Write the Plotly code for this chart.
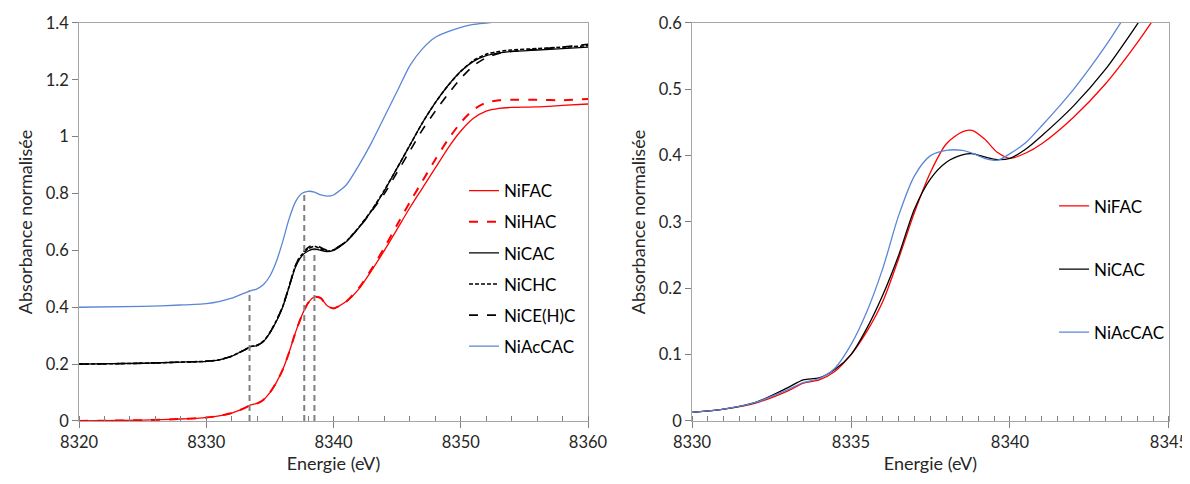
import plotly.graph_objects as go

# ---------------- data: left panel (offset spectra) ----------------
E_left = [8320, 8325, 8328, 8330, 8331, 8332, 8333, 8333.5, 8334, 8334.5, 8335, 8335.5,
          8336, 8336.5, 8337, 8337.5, 8338, 8338.5, 8339, 8339.5, 8340, 8341, 8342, 8343,
          8344, 8345, 8346, 8347, 8348, 8349, 8350, 8351, 8352, 8353, 8354, 8356, 8358, 8360]

NiFAC_L = [0.0, 0.003, 0.007, 0.012, 0.018, 0.028, 0.045, 0.057, 0.062, 0.075, 0.10, 0.135,
           0.18, 0.24, 0.31, 0.37, 0.415, 0.437, 0.432, 0.405, 0.396, 0.42, 0.465, 0.53,
           0.60, 0.675, 0.75, 0.82, 0.89, 0.96, 1.02, 1.065, 1.09, 1.10, 1.103, 1.105, 1.11, 1.115]
NiHAC_L = [0.0, 0.003, 0.007, 0.012, 0.018, 0.028, 0.045, 0.057, 0.062, 0.075, 0.10, 0.135,
           0.18, 0.24, 0.31, 0.37, 0.415, 0.437, 0.432, 0.405, 0.396, 0.42, 0.468, 0.535,
           0.61, 0.69, 0.77, 0.845, 0.92, 0.99, 1.05, 1.095, 1.12, 1.128, 1.13, 1.13, 1.128, 1.133]
NiCAC_L = [0.2, 0.203, 0.207, 0.21, 0.215, 0.228, 0.25, 0.262, 0.265, 0.28, 0.31, 0.35,
           0.40, 0.47, 0.54, 0.58, 0.598, 0.605, 0.60, 0.596, 0.60, 0.63, 0.68, 0.74,
           0.81, 0.89, 0.97, 1.05, 1.12, 1.18, 1.23, 1.265, 1.285, 1.295, 1.30, 1.305, 1.31, 1.315]
NiCHC_L = [0.2, 0.203, 0.207, 0.21, 0.215, 0.228, 0.25, 0.262, 0.266, 0.281, 0.311, 0.352,
           0.402, 0.472, 0.545, 0.585, 0.605, 0.615, 0.605, 0.598, 0.602, 0.632, 0.682, 0.742,
           0.812, 0.89, 0.97, 1.05, 1.12, 1.18, 1.23, 1.268, 1.29, 1.30, 1.305, 1.31, 1.315, 1.32]
NiCEHC_L = [0.2, 0.203, 0.207, 0.21, 0.215, 0.228, 0.25, 0.262, 0.266, 0.281, 0.311, 0.352,
            0.402, 0.472, 0.545, 0.59, 0.61, 0.622, 0.61, 0.60, 0.603, 0.632, 0.68, 0.738,
            0.80, 0.875, 0.95, 1.025, 1.09, 1.15, 1.205, 1.25, 1.278, 1.293, 1.30, 1.308, 1.315, 1.325]
NiAcCAC_L = [0.4, 0.403, 0.408, 0.413, 0.42, 0.432, 0.45, 0.458, 0.465, 0.48, 0.51, 0.56,
             0.63, 0.71, 0.77, 0.80, 0.808, 0.805, 0.795, 0.791, 0.795, 0.83, 0.90, 0.98,
             1.07, 1.16, 1.25, 1.31, 1.35, 1.37, 1.385, 1.395, 1.40, 1.405, 1.41, 1.415, 1.42, 1.425]

# edge feature markers (vertical dashed lines): energy, top value
mark_E = [8333.4, 8337.7, 8338.5]
mark_top = [0.46, 0.80, 0.60]

# ---------------- data: right panel (zoom, no offset) ----------------
E_right = [8330, 8331, 8332, 8333, 8333.5, 8334, 8334.5, 8335, 8335.5, 8336, 8336.5,
           8337, 8337.5, 8338, 8338.5, 8338.8, 8339.2, 8339.6, 8340, 8340.5, 8341,
           8342, 8343, 8344, 8345]
NiFAC_R = [0.013, 0.018, 0.027, 0.045, 0.057, 0.062, 0.075, 0.10, 0.135, 0.18, 0.245,
           0.315, 0.375, 0.418, 0.436, 0.438, 0.425, 0.405, 0.396, 0.404, 0.418,
           0.458, 0.508, 0.57, 0.64]
NiCAC_R = [0.013, 0.018, 0.028, 0.05, 0.062, 0.065, 0.078, 0.10, 0.14, 0.19, 0.25,
           0.32, 0.365, 0.39, 0.401, 0.403, 0.398, 0.394, 0.396, 0.41, 0.43,
           0.475, 0.53, 0.598, 0.67]
NiAcCAC_R = [0.013, 0.018, 0.028, 0.047, 0.058, 0.064, 0.08, 0.115, 0.165, 0.23, 0.31,
             0.37, 0.40, 0.408, 0.408, 0.404, 0.396, 0.393, 0.403, 0.42, 0.445,
             0.50, 0.565, 0.64, 0.72]

RED = "#FF0000"
BLACK = "#000000"
BLUE = "#5B86D6"
FONT = "Lato"
TXT = "#262626"

fig = go.Figure()

left_series = [
    ("NiFAC", NiFAC_L, RED, "solid", 1.3),
    ("NiHAC", NiHAC_L, RED, "dash", 2.0),
    ("NiCAC", NiCAC_L, BLACK, "solid", 1.3),
    ("NiCHC", NiCHC_L, BLACK, "4px,2px", 1.6),
    ("NiCE(H)C", NiCEHC_L, BLACK, "dash", 1.6),
    ("NiAcCAC", NiAcCAC_L, BLUE, "solid", 1.3),
]
for i, (name, ys, col, dash, w) in enumerate(left_series):
    fig.add_trace(go.Scatter(x=E_left, y=ys, name=name, mode="lines",
                             line=dict(color=col, dash=dash, width=w, shape="spline", smoothing=0.6),
                             xaxis="x", yaxis="y", legend="legend", legendgroup=f"L{i}"))

right_series = [
    ("NiFAC", NiFAC_R, RED),
    ("NiCAC", NiCAC_R, BLACK),
    ("NiAcCAC", NiAcCAC_R, BLUE),
]
for i, (name, ys, col) in enumerate(right_series):
    fig.add_trace(go.Scatter(x=E_right, y=ys, name=name, mode="lines",
                             line=dict(color=col, width=1.3, shape="spline", smoothing=0.8),
                             xaxis="x2", yaxis="y2", legend="legend2", legendgroup=f"R{i}"))

for xe, top in zip(mark_E, mark_top):
    fig.add_shape(type="line", xref="x", yref="y", x0=xe, x1=xe, y0=0, y1=top,
                  line=dict(color="#808080", width=2, dash="6px,4px"))

ax_common = dict(showgrid=False, zeroline=False, showline=True, linecolor="#A6A6A6",
                 linewidth=1, mirror=True, ticks="outside", ticklen=6, tickcolor="#808080",
                 tickfont=dict(family=FONT, size=16.5, color=TXT),
                 title_font=dict(family=FONT, size=18, color=TXT), automargin=False)

# figure is placed 8px from the page corner (body margin), so it is sized 1182x476
fig.update_layout(
    width=1182, height=476,
    margin=dict(l=0, r=0, t=0, b=0),
    paper_bgcolor="white", plot_bgcolor="white",
    font=dict(family=FONT, size=17, color=TXT),
    xaxis=dict(domain=[0.0601, 0.4907], range=[8320, 8360], dtick=10, anchor="y",
               title=dict(text="Energie (eV)", standoff=6),
               minor=dict(dtick=2, ticks="inside", ticklen=5, tickcolor="#808080"), **ax_common),
    yaxis=dict(domain=[0.1324, 0.9685], range=[0, 1.4], dtick=0.2, anchor="x",
               title=dict(text="Absorbance normalisée", standoff=8), **ax_common),
    xaxis2=dict(domain=[0.5787, 0.9822], range=[8330, 8345], dtick=5, anchor="y2",
                title=dict(text="Energie (eV)", standoff=6),
                minor=dict(dtick=0.5, ticks="inside", ticklen=5, tickcolor="#808080"), **ax_common),
    yaxis2=dict(domain=[0.1324, 0.9685], range=[0, 0.6], dtick=0.1, anchor="x2",
                title=dict(text="Absorbance normalisée", standoff=8), **ax_common),
    legend=dict(x=0.3858, y=0.653, xanchor="left", yanchor="top", bgcolor="rgba(0,0,0,0)",
                font=dict(family=FONT, size=17, color="#000000"), tracegroupgap=6,
                traceorder="grouped", itemwidth=30),
    legend2=dict(x=0.885, y=0.621, xanchor="left", yanchor="top", bgcolor="rgba(0,0,0,0)",
                 font=dict(family=FONT, size=17, color="#000000"), tracegroupgap=38,
                 traceorder="grouped", itemwidth=30),
    showlegend=True,
)

fig.write_html("out.html")
